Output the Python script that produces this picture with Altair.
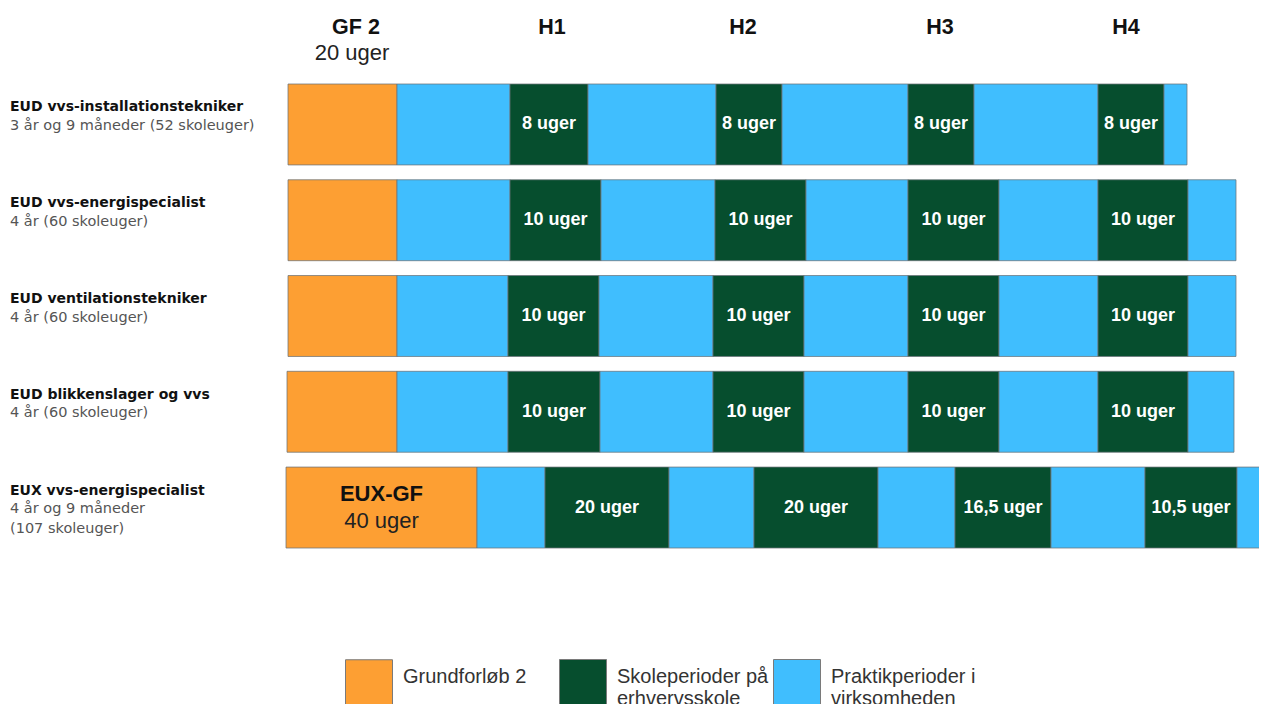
import altair as alt
import pandas as pd

# ---------------- data ----------------
programmes = [
    "EUD vvs-installationstekniker",
    "EUD vvs-energispecialist",
    "EUD ventilationstekniker",
    "EUD blikkenslager og vvs",
    "EUX vvs-energispecialist",
]
durations = [
    ["3 år og 9 måneder (52 skoleuger)"],
    ["4 år (60 skoleuger)"],
    ["4 år (60 skoleuger)"],
    ["4 år (60 skoleuger)"],
    ["4 år og 9 måneder", "(107 skoleuger)"],
]

# segment boundaries along the diagram's timeline (GF, P, S, P, S, P, S, P, S, P)
bounds_installation = [288, 397, 510, 588, 716, 782, 908, 974, 1098, 1164, 1187]
bounds_energi = [288, 397, 510, 601, 715, 806, 908, 999, 1098, 1188, 1236]
bounds_ventilation = [288, 397, 508, 599, 713, 804, 908, 999, 1098, 1188, 1236]
bounds_blik = [287, 397, 508, 600, 713, 804, 908, 999, 1098, 1188, 1234]
bounds_eux = [286, 477, 545, 669, 754, 878, 955, 1051, 1145, 1237, 1280]
all_bounds = [bounds_installation, bounds_energi, bounds_ventilation, bounds_blik, bounds_eux]

school_installation = ["8 uger", "8 uger", "8 uger", "8 uger"]
school_energi = ["10 uger", "10 uger", "10 uger", "10 uger"]
school_ventilation = ["10 uger", "10 uger", "10 uger", "10 uger"]
school_blik = ["10 uger", "10 uger", "10 uger", "10 uger"]
school_eux = ["20 uger", "20 uger", "16,5 uger", "10,5 uger"]
all_school = [school_installation, school_energi, school_ventilation, school_blik, school_eux]

eux_gf_label = ["EUX-GF", "40 uger"]

header_labels = ["GF 2", "H1", "H2", "H3", "H4"]
header_at = [356, 552, 743, 940, 1126]
gf_weeks = "20 uger"

categories = ["Grundforløb 2", "Skoleperioder på|erhvervsskole", "Praktikperioder i|virksomheden"]
colors = ["#FD9F33", "#064E2E", "#40BEFE"]

# ---------------- tables ----------------
seg_rows = []
for prog, b, sch in zip(programmes, all_bounds, all_school):
    si = 0
    for i in range(len(b) - 1):
        if i == 0:
            kind, lab = categories[0], ""
        elif i % 2 == 0:
            kind, lab = categories[1], sch[si]
            si += 1
        else:
            kind, lab = categories[2], ""
        seg_rows.append({"row": prog, "start": b[i], "end": b[i + 1], "kind": kind, "label": lab})
seg = pd.DataFrame(seg_rows)
school = seg[seg["label"] != ""].copy()

names = pd.DataFrame({"row": programmes, "name": programmes})
line1 = pd.DataFrame({"row": programmes, "txt": [d[0] for d in durations]})
line2 = pd.DataFrame({"row": [p for p, d in zip(programmes, durations) if len(d) > 1],
                      "txt": [d[1] for d in durations if len(d) > 1]})
eux = pd.DataFrame({"row": [programmes[-1]], "start": [bounds_eux[0]], "end": [bounds_eux[1]],
                    "a": [eux_gf_label[0]], "b": [eux_gf_label[1]]})
heads = pd.DataFrame({"h": header_labels, "pos": header_at})
gfw = pd.DataFrame({"h": [gf_weeks], "pos": [header_at[0] - 4]})

# ---------------- chart ----------------
X_SCALE = alt.Scale(domain=[8, 1259], nice=False, zero=False)
Y = alt.Y("row:N", sort=programmes,
          scale=alt.Scale(domain=programmes, range=[76, 540], paddingInner=0.155, paddingOuter=0),
          axis=None)

legend = alt.Legend(
    title=None, orient="none", legendX=337, legendY=651, direction="horizontal",
    columns=3, gridAlign="all", columnPadding=2, padding=0,
    symbolType="square", symbolSize=2209, symbolStrokeColor="#7a7a7a", symbolStrokeWidth=1,
    symbolOpacity=1,
    labelFont="Liberation Sans", labelFontSize=20, labelColor="#333333", labelLimit=400,
    labelOffset=10, labelExpr="split(datum.label, '|')",
    labelBaseline="alphabetic",
)

bars = alt.Chart(seg).mark_rect(stroke="#6b737a", strokeWidth=1, strokeOpacity=0.75).encode(
    x=alt.X("start:Q", scale=X_SCALE, axis=None),
    x2="end:Q",
    y=Y,
    color=alt.Color("kind:N", scale=alt.Scale(domain=categories, range=colors), legend=legend),
)

school_text = alt.Chart(school).transform_calculate(mid="(datum.start + datum.end) / 2").mark_text(
    font="Liberation Sans", fontWeight="bold", fontSize=18, color="white", baseline="middle"
).encode(x=alt.X("mid:Q", scale=X_SCALE, axis=None), y=Y, text="label:N")

eux_a = alt.Chart(eux).transform_calculate(mid="(datum.start + datum.end) / 2").mark_text(
    font="Liberation Sans", fontWeight="bold", fontSize=22, color="#111111", baseline="middle", dy=-14
).encode(x=alt.X("mid:Q", scale=X_SCALE, axis=None), y=Y, text="a:N")
eux_b = alt.Chart(eux).transform_calculate(mid="(datum.start + datum.end) / 2").mark_text(
    font="Liberation Sans", fontSize=22, color="#222222", baseline="middle", dy=13
).encode(x=alt.X("mid:Q", scale=X_SCALE, axis=None), y=Y, text="b:N")

name_text = alt.Chart(names).mark_text(
    font="DejaVu Sans", fontWeight="bold", fontSize=14, color="#111111", align="left",
    baseline="middle", dy=-17
).encode(x=alt.value(2), y=Y, text="name:N")
l1_text = alt.Chart(line1).mark_text(
    font="DejaVu Sans", fontSize=14.5, color="#555555", align="left", baseline="middle", dy=1.5
).encode(x=alt.value(2), y=Y, text="txt:N")
l2_text = alt.Chart(line2).mark_text(
    font="DejaVu Sans", fontSize=14.5, color="#555555", align="left", baseline="middle", dy=21.5
).encode(x=alt.value(2), y=Y, text="txt:N")

head_text = alt.Chart(heads).mark_text(
    font="Liberation Sans", fontWeight="bold", fontSize=21.5, color="#111111", baseline="middle"
).encode(x=alt.X("pos:Q", scale=X_SCALE, axis=None), y=alt.value(20), text="h:N")
gfw_text = alt.Chart(gfw).mark_text(
    font="Liberation Sans", fontSize=22, color="#222222", baseline="middle"
).encode(x=alt.X("pos:Q", scale=X_SCALE, axis=None), y=alt.value(45), text="h:N")

chart = alt.layer(
    bars, school_text, eux_a, eux_b, name_text, l1_text, l2_text, head_text, gfw_text
).properties(
    width=1251, height=696,
    autosize=alt.AutoSizeParams(type="none"),
    padding={"left": 0, "top": 0, "right": 0, "bottom": 0},
    background="white",
).configure_view(stroke=None)

chart.save("out.html", embed_options={"renderer": "svg", "actions": False})
